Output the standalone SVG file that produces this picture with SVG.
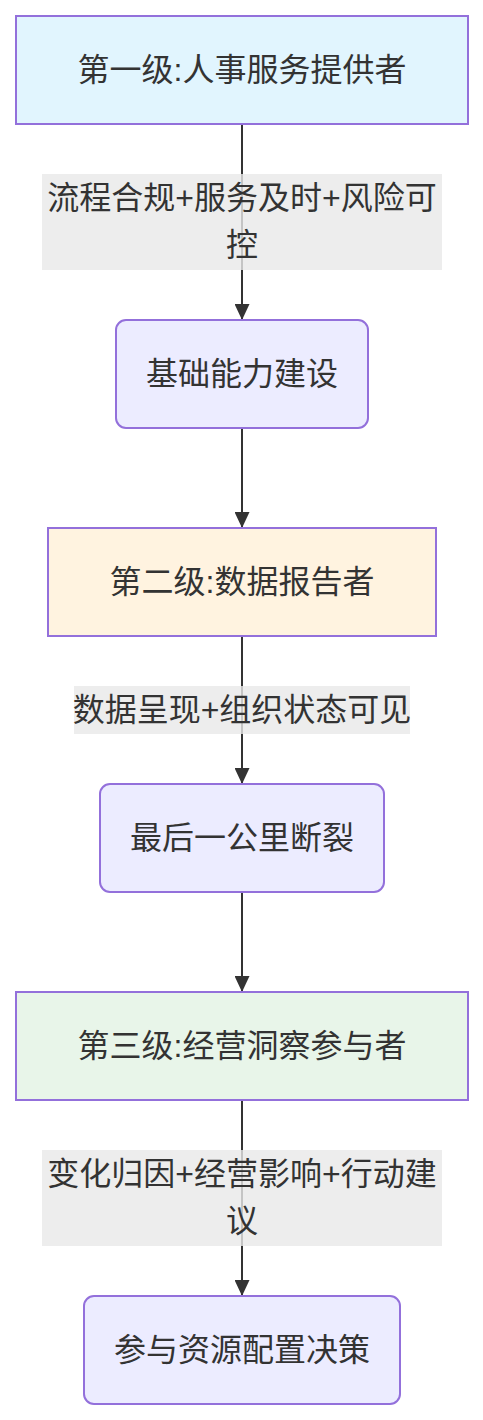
<svg xmlns="http://www.w3.org/2000/svg" width="483" height="1420" viewBox="0 0 483 1420">
<style>
.n{stroke:#9370DB;stroke-width:2}
.t{font-family:"Liberation Sans","Noto Sans CJK SC",sans-serif;font-size:32px;fill:#333;text-anchor:middle;dominant-baseline:central}
.e{stroke:#333;stroke-width:2;fill:none}
.lb{fill:#e8e8e8;fill-opacity:0.8}
</style>
<defs>
<marker id="ah" viewBox="0 0 16 15" refX="16" refY="7.5" markerWidth="16" markerHeight="15" markerUnits="userSpaceOnUse" orient="auto">
<path d="M0,0 L16,7.5 L0,15 z" fill="#333"/>
</marker>
</defs>
<g id="connectors">
<line class="e" x1="242" y1="124" x2="242" y2="320" marker-end="url(#ah)"/>
<line class="e" x1="242" y1="428" x2="242" y2="528" marker-end="url(#ah)"/>
<line class="e" x1="242" y1="636" x2="242" y2="784" marker-end="url(#ah)"/>
<line class="e" x1="242" y1="892" x2="242" y2="992" marker-end="url(#ah)"/>
<line class="e" x1="242" y1="1100" x2="242" y2="1296" marker-end="url(#ah)"/>
<g id="label1"><rect class="lb" x="42" y="174" width="400" height="96"/><text class="t" x="242" y="198">流程合规+服务及时+风险可</text><text class="t" x="242" y="245">控</text></g>
<g id="label2"><rect class="lb" x="74" y="686" width="336" height="48"/><text class="t" x="242" y="710">数据呈现+组织状态可见</text></g>
<g id="label3"><rect class="lb" x="42" y="1150" width="400" height="96"/><text class="t" x="242" y="1174">变化归因+经营影响+行动建</text><text class="t" x="242" y="1221">议</text></g>
</g>
<g id="n1"><rect class="n" x="16" y="16" width="452" height="108" fill="#e1f5fe"/><text class="t" x="242" y="70">第一级:人事服务提供者</text></g>
<g id="n2"><rect class="n" x="116" y="320" width="252" height="108" rx="10" fill="#ECECFF"/><text class="t" x="242" y="374">基础能力建设</text></g>
<g id="n3"><rect class="n" x="48" y="528" width="388" height="108" fill="#fff3e0"/><text class="t" x="242" y="582">第二级:数据报告者</text></g>
<g id="n4"><rect class="n" x="100" y="784" width="284" height="108" rx="10" fill="#ECECFF"/><text class="t" x="242" y="838">最后一公里断裂</text></g>
<g id="n5"><rect class="n" x="16" y="992" width="452" height="108" fill="#e8f5e9"/><text class="t" x="242" y="1046">第三级:经营洞察参与者</text></g>
<g id="n6"><rect class="n" x="84" y="1296" width="316" height="108" rx="10" fill="#ECECFF"/><text class="t" x="242" y="1350">参与资源配置决策</text></g>
</svg>
